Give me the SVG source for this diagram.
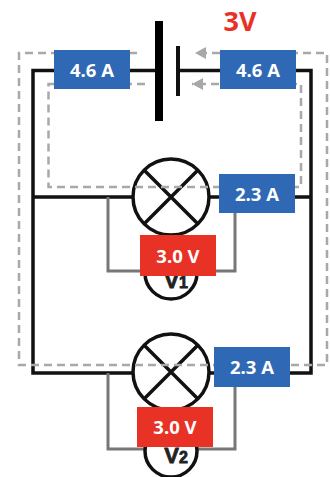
<svg xmlns="http://www.w3.org/2000/svg" width="330" height="477" viewBox="0 0 330 477">
<style>
.w{fill:none;stroke:#111;stroke-width:3.5}
.g{fill:none;stroke:#777;stroke-width:3}
.d{fill:none;stroke:#a8a8a8;stroke-width:2.5;stroke-dasharray:8 5}
.l{fill:#fff;stroke:#111;stroke-width:3.5}
.c{fill:none;stroke:#111;stroke-width:3.5}
.lb{font-family:"Open Sans","Liberation Sans",sans-serif;font-weight:700;font-size:18.5px;fill:#fff;text-anchor:middle}
.vt{font-family:"Liberation Sans",sans-serif;font-weight:700;fill:#222;stroke:#222;stroke-width:.8;text-anchor:middle}
.b{fill:#2f69b5}.r{fill:#e83226}
</style>
<defs><marker id="a" markerWidth="12" markerHeight="12" refX="11" refY="6" orient="auto" markerUnits="userSpaceOnUse"><path d="M0 0L11 6L0 12Z" fill="#a8a8a8"/></marker></defs>
<g id="connectors">
<path class="w" d="M159 70.5H33V373H135M207 373H311V70.5H178M33 197H135M207 197H311"/>
<path class="g" d="M108 197V271H235V197M108 373V449H235V373"/>
</g>
<g id="battery"><rect x="155" y="21" width="8" height="100" fill="#000"/><rect x="176" y="46" width="4" height="50" fill="#111"/></g>
<g id="lamp1"><circle class="l" cx="171" cy="197" r="38"/><path class="c" d="M144 170L198 224M198 170L144 224"/></g>
<g id="lamp2"><circle class="l" cx="171" cy="372" r="38"/><path class="c" d="M144 345L198 399M198 345L144 399"/></g>
<g id="v1"><circle class="l" cx="171" cy="273" r="26"/><text class="vt" x="176" y="288" font-size="22">V<tspan font-size="16">1</tspan></text></g>
<g id="v2"><circle class="l" cx="171" cy="451" r="26"/><text class="vt" x="176" y="463" font-size="22">V<tspan font-size="16">2</tspan></text></g>
<g id="current-paths">
<path class="d" marker-end="url(#a)" d="M137 53H19V365H327V53H195"/>
<path class="d" marker-end="url(#a)" d="M145 84H48.500V187H301V84H192"/>
</g>
<g id="label-a1"><rect class="b" x="54" y="50" width="76" height="39"/><text class="lb" x="92" y="77">4.6 A</text></g>
<g id="label-a2"><rect class="b" x="220" y="50" width="76" height="39"/><text class="lb" x="258" y="77">4.6 A</text></g>
<g id="label-a3"><rect class="b" x="219" y="174" width="76" height="39"/><text class="lb" x="257" y="201">2.3 A</text></g>
<g id="label-a4"><rect class="b" x="214" y="347" width="76" height="40"/><text class="lb" x="252" y="374">2.3 A</text></g>
<g id="label-v1"><rect class="r" x="140" y="235" width="76" height="41"/><text class="lb" x="178" y="263">3.0 V</text></g>
<g id="label-v2"><rect class="r" x="137" y="407" width="76" height="40"/><text class="lb" x="175" y="434">3.0 V</text></g>
<g id="label-3v"><text x="240" y="31" font-family="Open Sans,Liberation Sans,sans-serif" font-weight="700" font-size="27" fill="#e83226" text-anchor="middle">3V</text></g>
</svg>
